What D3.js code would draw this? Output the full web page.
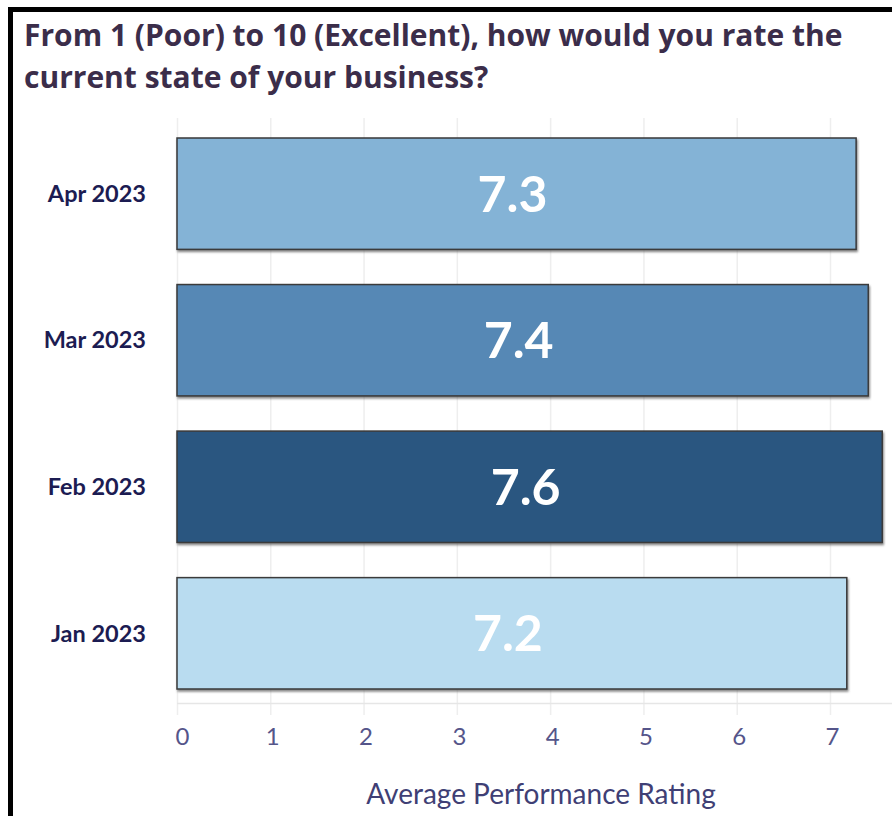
<!DOCTYPE html>
<html>
<head>
<meta charset="utf-8">
<script src="https://cdn.jsdelivr.net/npm/d3@7"></script>
<style>
  body { margin: 0; background: white; }
  svg { display: block; }
</style>
</head>
<body>
<svg id="chart" width="892" height="816"></svg>
<script>
// datos
const months = ['Apr 2023', 'Mar 2023', 'Feb 2023', 'Jan 2023']
const ratings = [7.28, 7.41, 7.56, 7.18]
const barColors = ['#84b3d6', '#5688b5', '#2c5680', '#b9dcf0']
const tickValues = [0, 1, 2, 3, 4, 5, 6, 7]
const titleLines = [
  'From 1 (Poor) to 10 (Excellent), how would you rate the',
  'current state of your business?'
]
const axisTitle = 'Average Performance Rating'

const data = months.map((m, i) => ({ month: m, rating: ratings[i], color: barColors[i] }))

const svg = d3.select('#chart')
const width = +svg.attr('width')
const height = +svg.attr('height')

// sombra de las barras
const defs = svg.append('defs')
defs.append('filter')
    .attr('id', 'shadow')
    .attr('x', '-5%').attr('y', '-10%')
    .attr('width', '110%').attr('height', '130%')
  .append('feDropShadow')
    .attr('dx', 1).attr('dy', 2)
    .attr('stdDeviation', 1)
    .attr('flood-color', '#555')
    .attr('flood-opacity', 0.7)

const x0 = 177
const xScale = d3.scaleLinear()
    .domain([0, 7])
    .range([x0, 830])

const yScale = d3.scaleBand()
    .domain(months)
    .range([138, 689])
    .paddingInner(0.24)
    .paddingOuter(0)

// grid vertical
svg.append('g')
    .call(d3.axisBottom(xScale).tickValues(tickValues).tickSize(597).tickFormat(''))
    .attr('transform', 'translate(0, 118)')
    .call(g => g.select('.domain').remove())
    .call(g => g.selectAll('.tick line').attr('stroke', '#eeeeee').attr('stroke-width', 1.5))

// linea base
svg.append('line')
    .attr('x1', x0).attr('x2', width)
    .attr('y1', 703.5).attr('y2', 703.5)
    .attr('stroke', '#e6e6e6')
    .attr('stroke-width', 1.5)

// eje x (solo etiquetas)
const xAxisGroup = svg.append('g')
    .attr('transform', 'translate(0, 745)')
    .call(d3.axisBottom(xScale).tickValues(tickValues).tickSize(0).tickPadding(0).tickFormat(d3.format('d')))
xAxisGroup.select('.domain').remove()
xAxisGroup.selectAll('.tick text')
    .attr('y', 0)
    .attr('dy', 0)
    .attr('dx', d => d === 0 ? 5 : 2)
    .attr('fill', '#55558a')
    .style('font-family', 'Lato, "Open Sans", sans-serif')
    .style('font-size', '24px')

svg.append('text')
    .attr('x', 541)
    .attr('y', 804)
    .attr('text-anchor', 'middle')
    .attr('fill', '#3f3f75')
    .style('font-family', 'Lato, "Open Sans", sans-serif')
    .style('font-size', '28px')
    .text(axisTitle)

// eje y (etiquetas de mes)
const yAxisGroup = svg.append('g')
    .attr('transform', 'translate(146, 0)')
    .call(d3.axisLeft(yScale).tickSize(0).tickPadding(0))
yAxisGroup.select('.domain').remove()
yAxisGroup.selectAll('.tick text')
    .attr('dy', '0.35em')
    .attr('fill', '#1c1c52')
    .style('font-family', 'Lato, sans-serif')
    .style('font-weight', 'bold')
    .style('font-size', '23.5px')

// barras
svg.selectAll('rect.bar').data(data)
  .enter().append('rect')
    .attr('class', 'bar')
    .attr('x', xScale(0))
    .attr('y', d => yScale(d.month))
    .attr('width', d => xScale(d.rating) - xScale(0))
    .attr('height', yScale.bandwidth())
    .attr('fill', d => d.color)
    .attr('stroke', '#3a3a3a')
    .attr('stroke-width', 1.5)
    .attr('filter', 'url(#shadow)')

// valores dentro de las barras
svg.selectAll('text.value').data(data)
  .enter().append('text')
    .attr('class', 'value')
    .attr('x', d => (xScale(0) + xScale(d.rating)) / 2 - 4)
    .attr('y', d => yScale(d.month) + yScale.bandwidth() / 2 + 18)
    .attr('text-anchor', 'middle')
    .attr('fill', 'white')
    .style('font-family', 'Lato, sans-serif')
    .style('font-weight', 'bold')
    .style('font-size', '50px')
    .text(d => d3.format('.1f')(d.rating))

// titulo
svg.append('text')
    .attr('x', 25)
    .attr('fill', '#3b2d4a')
    .style('font-family', '"Open Sans", sans-serif')
    .style('font-weight', 'bold')
    .style('font-size', '30px')
  .selectAll('tspan').data(titleLines)
  .enter().append('tspan')
    .attr('x', 24)
    .attr('y', (d, i) => 46 + i * 42)
    .text(d => d)

// marco negro
svg.append('rect')
    .attr('x', 10.5).attr('y', 9.5)
    .attr('width', width + 20).attr('height', height + 20)
    .attr('fill', 'none')
    .attr('stroke', 'black')
    .attr('stroke-width', 5)
</script>
</body>
</html>
